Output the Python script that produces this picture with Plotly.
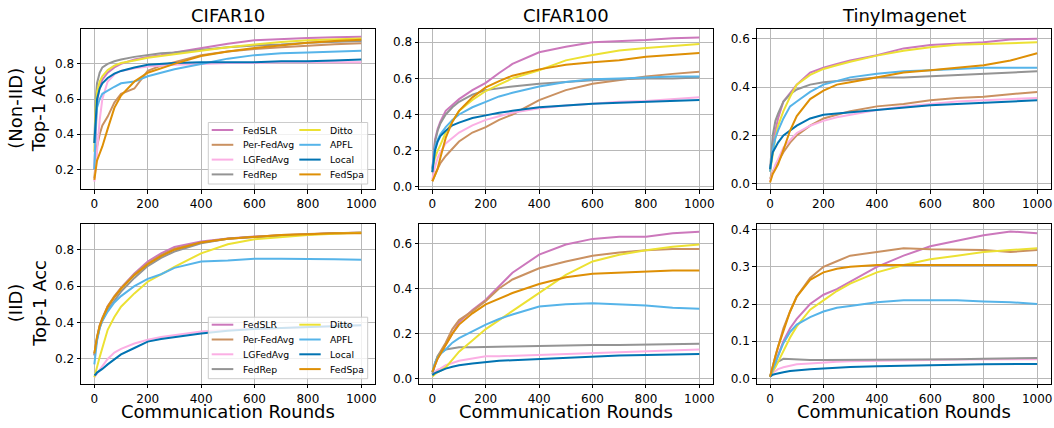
import plotly.graph_objects as go

# ---------------- data ----------------
ROUNDS = [0, 5, 10, 20, 30, 50, 75, 100, 150, 200, 250, 300, 400, 500, 600, 700, 800, 900, 1000]

METHODS = ["FedSLR", "Per-FedAvg", "LGFedAvg", "FedRep", "Ditto", "APFL", "Local", "FedSpa"]
COLORS = ["#CC78BC", "#CA9161", "#FBAFE4", "#949494", "#ECE133", "#56B4E9", "#0173B2", "#DE8F05"]

DATASETS = ["CIFAR10", "CIFAR100", "TinyImagenet"]
ROW_LABELS = ["(Non-IID)<br>Top-1 Acc", "(IID)<br>Top-1 Acc"]
X_TICKS = [0, 200, 400, 600, 800, 1000]

# CIFAR10, Non-IID
c10_noniid_fedslr = [0.20, 0.45, 0.58, 0.67, 0.71, 0.75, 0.78, 0.80, 0.825, 0.84, 0.85, 0.865, 0.89, 0.915, 0.935, 0.943, 0.948, 0.952, 0.955]
c10_noniid_perfedavg = [0.15, 0.25, 0.33, 0.40, 0.45, 0.50, 0.58, 0.63, 0.66, 0.76, 0.79, 0.81, 0.85, 0.87, 0.885, 0.895, 0.905, 0.912, 0.918]
c10_noniid_lgfedavg = [0.13, 0.20, 0.30, 0.48, 0.60, 0.70, 0.74, 0.76, 0.775, 0.785, 0.79, 0.795, 0.80, 0.805, 0.805, 0.81, 0.81, 0.81, 0.81]
c10_noniid_fedrep = [0.35, 0.60, 0.69, 0.75, 0.78, 0.80, 0.815, 0.825, 0.84, 0.85, 0.86, 0.865, 0.88, 0.895, 0.905, 0.91, 0.92, 0.925, 0.93]
c10_noniid_ditto = [0.30, 0.55, 0.64, 0.70, 0.73, 0.765, 0.79, 0.805, 0.82, 0.835, 0.845, 0.855, 0.875, 0.895, 0.91, 0.925, 0.935, 0.94, 0.945]
c10_noniid_apfl = [0.20, 0.45, 0.55, 0.60, 0.63, 0.65, 0.67, 0.69, 0.70, 0.73, 0.75, 0.77, 0.80, 0.83, 0.85, 0.86, 0.865, 0.87, 0.875]
c10_noniid_local = [0.35, 0.52, 0.60, 0.66, 0.69, 0.72, 0.745, 0.76, 0.78, 0.795, 0.80, 0.805, 0.81, 0.81, 0.81, 0.815, 0.815, 0.82, 0.825]
c10_noniid_fedspa = [0.14, 0.20, 0.25, 0.29, 0.33, 0.43, 0.55, 0.62, 0.70, 0.75, 0.775, 0.80, 0.845, 0.87, 0.89, 0.905, 0.92, 0.93, 0.937]

# CIFAR100, Non-IID
c100_noniid_fedslr = [0.10, 0.20, 0.26, 0.32, 0.36, 0.42, 0.455, 0.485, 0.535, 0.575, 0.63, 0.68, 0.745, 0.775, 0.80, 0.805, 0.813, 0.823, 0.826]
c100_noniid_perfedavg = [0.03, 0.05, 0.07, 0.10, 0.13, 0.17, 0.21, 0.25, 0.30, 0.33, 0.37, 0.40, 0.48, 0.535, 0.57, 0.59, 0.61, 0.625, 0.637]
c100_noniid_lgfedavg = [0.04, 0.08, 0.11, 0.16, 0.19, 0.24, 0.27, 0.30, 0.34, 0.37, 0.39, 0.41, 0.435, 0.45, 0.46, 0.47, 0.475, 0.485, 0.495]
c100_noniid_fedrep = [0.08, 0.18, 0.25, 0.31, 0.35, 0.40, 0.44, 0.47, 0.51, 0.535, 0.545, 0.555, 0.57, 0.58, 0.59, 0.595, 0.60, 0.60, 0.605]
c100_noniid_ditto = [0.10, 0.13, 0.16, 0.20, 0.23, 0.30, 0.36, 0.42, 0.48, 0.53, 0.565, 0.60, 0.645, 0.70, 0.73, 0.755, 0.768, 0.78, 0.79]
c100_noniid_apfl = [0.10, 0.18, 0.22, 0.26, 0.29, 0.33, 0.37, 0.40, 0.44, 0.47, 0.50, 0.52, 0.555, 0.58, 0.595, 0.60, 0.605, 0.61, 0.61]
c100_noniid_local = [0.08, 0.15, 0.20, 0.25, 0.28, 0.31, 0.34, 0.355, 0.38, 0.395, 0.41, 0.42, 0.44, 0.45, 0.46, 0.465, 0.47, 0.475, 0.48]
c100_noniid_fedspa = [0.03, 0.05, 0.07, 0.10, 0.16, 0.27, 0.36, 0.42, 0.495, 0.55, 0.585, 0.615, 0.65, 0.675, 0.69, 0.70, 0.72, 0.73, 0.74]

# TinyImagenet, Non-IID
tin_noniid_fedslr = [0.05, 0.10, 0.15, 0.22, 0.27, 0.34, 0.375, 0.41, 0.46, 0.48, 0.495, 0.51, 0.532, 0.56, 0.574, 0.58, 0.585, 0.597, 0.60]
tin_noniid_perfedavg = [0.02, 0.04, 0.05, 0.07, 0.09, 0.13, 0.17, 0.20, 0.24, 0.27, 0.285, 0.30, 0.32, 0.33, 0.345, 0.355, 0.36, 0.37, 0.38]
tin_noniid_lgfedavg = [0.01, 0.03, 0.05, 0.08, 0.10, 0.15, 0.18, 0.21, 0.24, 0.26, 0.275, 0.285, 0.305, 0.32, 0.33, 0.34, 0.345, 0.35, 0.355]
tin_noniid_fedrep = [0.06, 0.14, 0.20, 0.26, 0.29, 0.34, 0.37, 0.39, 0.41, 0.42, 0.425, 0.43, 0.44, 0.44, 0.445, 0.45, 0.455, 0.46, 0.465]
tin_noniid_ditto = [0.05, 0.09, 0.13, 0.19, 0.24, 0.30, 0.36, 0.41, 0.45, 0.475, 0.49, 0.505, 0.53, 0.55, 0.565, 0.575, 0.578, 0.58, 0.585]
tin_noniid_apfl = [0.05, 0.10, 0.14, 0.19, 0.22, 0.27, 0.32, 0.34, 0.38, 0.41, 0.425, 0.44, 0.455, 0.465, 0.47, 0.475, 0.48, 0.48, 0.48]
tin_noniid_local = [0.06, 0.10, 0.13, 0.15, 0.17, 0.20, 0.22, 0.24, 0.27, 0.285, 0.29, 0.295, 0.305, 0.315, 0.325, 0.33, 0.335, 0.34, 0.345]
tin_noniid_fedspa = [0.005, 0.02, 0.04, 0.06, 0.08, 0.14, 0.22, 0.28, 0.35, 0.385, 0.41, 0.42, 0.44, 0.46, 0.47, 0.48, 0.49, 0.51, 0.54]

# CIFAR10, IID
c10_iid_fedslr = [0.22, 0.27, 0.31, 0.38, 0.42, 0.49, 0.54, 0.59, 0.67, 0.735, 0.78, 0.815, 0.845, 0.862, 0.872, 0.88, 0.885, 0.89, 0.893]
c10_iid_perfedavg = [0.23, 0.28, 0.32, 0.385, 0.425, 0.49, 0.545, 0.59, 0.665, 0.725, 0.77, 0.805, 0.84, 0.86, 0.872, 0.88, 0.886, 0.89, 0.895]
c10_iid_lgfedavg = [0.10, 0.11, 0.12, 0.14, 0.16, 0.20, 0.235, 0.255, 0.285, 0.305, 0.32, 0.33, 0.35, 0.36, 0.365, 0.37, 0.375, 0.38, 0.385]
c10_iid_fedrep = [0.22, 0.27, 0.31, 0.37, 0.41, 0.47, 0.52, 0.57, 0.645, 0.71, 0.755, 0.79, 0.835, 0.86, 0.87, 0.878, 0.885, 0.89, 0.893]
c10_iid_ditto = [0.10, 0.13, 0.16, 0.21, 0.26, 0.36, 0.43, 0.487, 0.56, 0.624, 0.665, 0.705, 0.78, 0.83, 0.857, 0.87, 0.88, 0.888, 0.893]
c10_iid_apfl = [0.17, 0.25, 0.30, 0.37, 0.41, 0.46, 0.51, 0.545, 0.60, 0.64, 0.665, 0.70, 0.735, 0.74, 0.75, 0.75, 0.75, 0.748, 0.745]
c10_iid_local = [0.11, 0.115, 0.125, 0.135, 0.145, 0.17, 0.20, 0.225, 0.26, 0.295, 0.31, 0.32, 0.34, 0.355, 0.365, 0.37, 0.375, 0.38, 0.385]
c10_iid_fedspa = [0.23, 0.28, 0.32, 0.38, 0.42, 0.485, 0.54, 0.585, 0.66, 0.72, 0.765, 0.80, 0.84, 0.86, 0.872, 0.88, 0.885, 0.89, 0.89]

# CIFAR100, IID
c100_iid_fedslr = [0.03, 0.04, 0.06, 0.09, 0.11, 0.15, 0.20, 0.25, 0.305, 0.35, 0.41, 0.47, 0.55, 0.595, 0.62, 0.63, 0.63, 0.645, 0.652]
c100_iid_perfedavg = [0.03, 0.045, 0.065, 0.10, 0.12, 0.16, 0.22, 0.26, 0.30, 0.345, 0.40, 0.44, 0.49, 0.52, 0.545, 0.56, 0.57, 0.575, 0.575]
c100_iid_lgfedavg = [0.02, 0.025, 0.03, 0.04, 0.045, 0.06, 0.07, 0.08, 0.09, 0.10, 0.10, 0.102, 0.105, 0.11, 0.115, 0.118, 0.12, 0.125, 0.13]
c100_iid_fedrep = [0.02, 0.05, 0.07, 0.10, 0.115, 0.13, 0.135, 0.14, 0.14, 0.14, 0.142, 0.143, 0.145, 0.148, 0.15, 0.15, 0.152, 0.153, 0.155]
c100_iid_ditto = [0.01, 0.015, 0.02, 0.03, 0.035, 0.05, 0.085, 0.12, 0.17, 0.22, 0.26, 0.30, 0.38, 0.46, 0.52, 0.55, 0.57, 0.585, 0.595]
c100_iid_apfl = [0.03, 0.05, 0.07, 0.095, 0.11, 0.13, 0.16, 0.18, 0.21, 0.24, 0.265, 0.285, 0.32, 0.33, 0.335, 0.33, 0.325, 0.315, 0.31]
c100_iid_local = [0.015, 0.02, 0.025, 0.03, 0.035, 0.045, 0.053, 0.06, 0.068, 0.075, 0.08, 0.082, 0.087, 0.093, 0.10, 0.103, 0.105, 0.108, 0.11]
c100_iid_fedspa = [0.03, 0.045, 0.06, 0.09, 0.11, 0.15, 0.20, 0.24, 0.29, 0.33, 0.355, 0.38, 0.42, 0.45, 0.465, 0.47, 0.475, 0.48, 0.48]

# TinyImagenet, IID
tin_iid_fedslr = [0.005, 0.015, 0.025, 0.045, 0.06, 0.10, 0.135, 0.16, 0.20, 0.225, 0.24, 0.26, 0.30, 0.33, 0.355, 0.37, 0.385, 0.395, 0.39]
tin_iid_perfedavg = [0.005, 0.02, 0.035, 0.06, 0.085, 0.135, 0.18, 0.22, 0.27, 0.30, 0.315, 0.33, 0.34, 0.35, 0.347, 0.345, 0.345, 0.34, 0.345]
tin_iid_lgfedavg = [0.005, 0.01, 0.015, 0.02, 0.025, 0.03, 0.035, 0.038, 0.04, 0.043, 0.045, 0.046, 0.048, 0.05, 0.05, 0.051, 0.052, 0.052, 0.052]
tin_iid_fedrep = [0.005, 0.015, 0.022, 0.035, 0.045, 0.053, 0.052, 0.05, 0.05, 0.05, 0.05, 0.05, 0.05, 0.05, 0.051, 0.052, 0.053, 0.054, 0.055]
tin_iid_ditto = [0.005, 0.01, 0.018, 0.03, 0.045, 0.075, 0.11, 0.14, 0.185, 0.21, 0.235, 0.255, 0.285, 0.305, 0.32, 0.33, 0.34, 0.345, 0.35]
tin_iid_apfl = [0.005, 0.015, 0.025, 0.045, 0.06, 0.095, 0.125, 0.145, 0.165, 0.18, 0.19, 0.195, 0.205, 0.21, 0.21, 0.21, 0.207, 0.205, 0.20]
tin_iid_local = [0.005, 0.008, 0.01, 0.012, 0.014, 0.017, 0.02, 0.022, 0.025, 0.027, 0.029, 0.031, 0.033, 0.035, 0.037, 0.037, 0.038, 0.038, 0.039]
tin_iid_fedspa = [0.005, 0.02, 0.035, 0.06, 0.085, 0.13, 0.18, 0.22, 0.265, 0.285, 0.295, 0.30, 0.305, 0.305, 0.305, 0.305, 0.305, 0.305, 0.305]

PANELS = [
    [c10_noniid_fedslr, c10_noniid_perfedavg, c10_noniid_lgfedavg, c10_noniid_fedrep,
     c10_noniid_ditto, c10_noniid_apfl, c10_noniid_local, c10_noniid_fedspa],
    [c100_noniid_fedslr, c100_noniid_perfedavg, c100_noniid_lgfedavg, c100_noniid_fedrep,
     c100_noniid_ditto, c100_noniid_apfl, c100_noniid_local, c100_noniid_fedspa],
    [tin_noniid_fedslr, tin_noniid_perfedavg, tin_noniid_lgfedavg, tin_noniid_fedrep,
     tin_noniid_ditto, tin_noniid_apfl, tin_noniid_local, tin_noniid_fedspa],
    [c10_iid_fedslr, c10_iid_perfedavg, c10_iid_lgfedavg, c10_iid_fedrep,
     c10_iid_ditto, c10_iid_apfl, c10_iid_local, c10_iid_fedspa],
    [c100_iid_fedslr, c100_iid_perfedavg, c100_iid_lgfedavg, c100_iid_fedrep,
     c100_iid_ditto, c100_iid_apfl, c100_iid_local, c100_iid_fedspa],
    [tin_iid_fedslr, tin_iid_perfedavg, tin_iid_lgfedavg, tin_iid_fedrep,
     tin_iid_ditto, tin_iid_apfl, tin_iid_local, tin_iid_fedspa],
]

Y_RANGES = [[0.088, 0.997], [-0.013, 0.872], [-0.022, 0.639],
            [0.064, 0.941], [-0.022, 0.686], [-0.014, 0.415]]
Y_DTICK = [0.2, 0.2, 0.2, 0.2, 0.2, 0.1]

# ---------------- layout geometry (pixels) ----------------
W, H = 1054, 428
COL_PX = [(81, 374.6), (419, 712.7), (756.7, 1050.5)]
ROW_PX = [(29.3, 189.0), (224.0, 383.7)]

FONT = "DejaVu Sans, Liberation Sans, sans-serif"

fig = go.Figure()

for p in range(6):
    r, c = divmod(p, 3)
    ax = "" if p == 0 else str(p + 1)
    for m, name in enumerate(METHODS):
        fig.add_trace(go.Scatter(
            x=ROUNDS, y=PANELS[p][m], mode="lines", name=name,
            line=dict(color=COLORS[m], width=2),
            xaxis="x" + ax, yaxis="y" + ax, showlegend=False,
        ))
    x0, x1 = COL_PX[c]
    yt, yb = ROW_PX[r]
    common = dict(showline=True, mirror=True, linecolor="black", linewidth=1,
                  ticks="outside", ticklen=3.5, tickwidth=1, tickcolor="black",
                  showgrid=True, gridcolor="#b8b8b8", gridwidth=1, zeroline=False,
                  tickfont=dict(family=FONT, size=12, color="black"), automargin=False)
    fig.layout["xaxis" + ax] = dict(domain=[x0 / W, x1 / W], range=[-50, 1050],
                                    tickvals=X_TICKS, anchor="y" + ax,
                                    ticklabeloverflow="allow", **common)
    fig.layout["yaxis" + ax] = dict(domain=[1 - yb / H, 1 - yt / H], range=Y_RANGES[p],
                                    dtick=Y_DTICK[p], tick0=0, tickformat=".1f",
                                    anchor="x" + ax, **common)

annotations = []
# column titles and x-axis titles
for c, name in enumerate(DATASETS):
    x0, x1 = COL_PX[c]
    annotations.append(dict(text=name, x=(x0 + x1) / 2 / W, y=1 - 15.5 / H, xref="paper", yref="paper",
                            showarrow=False, xanchor="center", yanchor="middle",
                            font=dict(family=FONT, size=18, color="black")))
    annotations.append(dict(text="Communication Rounds", x=(x0 + x1) / 2 / W, y=1 - 411 / H,
                            xref="paper", yref="paper", showarrow=False,
                            xanchor="center", yanchor="middle",
                            font=dict(family=FONT, size=18, color="black")))
# row labels
for r, lab in enumerate(ROW_LABELS):
    yt, yb = ROW_PX[r]
    annotations.append(dict(text=lab, x=27 / W, y=1 - (yt + yb) / 2 / H, xref="paper", yref="paper",
                            showarrow=False, textangle=-90, xanchor="center", yanchor="middle",
                            font=dict(family=FONT, size=18, color="black")))

# legends (in first column panels), drawn in axis-domain coordinates
shapes = []
px_w = COL_PX[0][1] - COL_PX[0][0]
px_h = ROW_PX[0][1] - ROW_PX[0][0]
def dx(px):
    return (px - COL_PX[0][0]) / px_w
def dy(py):
    return (ROW_PX[0][1] - py) / px_h
row_py = [130.0, 144.8, 159.6, 174.4]
for ax in ["", "4"]:
    xr, yr = "x" + ax + " domain", "y" + ax + " domain"
    shapes.append(dict(type="rect", xref=xr, yref=yr, x0=dx(208.3), x1=dx(367.7),
                       y0=dy(184.0), y1=dy(122.5), line=dict(color="#cccccc", width=1),
                       fillcolor="rgba(255,255,255,0.8)", layer="above"))
    for m, name in enumerate(METHODS):
        col, row = divmod(m, 4)
        lx0, lx1, tx = (211.7, 233.3, 241.0) if col == 0 else (299.3, 320.7, 328.3)
        shapes.append(dict(type="line", xref=xr, yref=yr, x0=dx(lx0), x1=dx(lx1),
                           y0=dy(row_py[row]), y1=dy(row_py[row]),
                           line=dict(color=COLORS[m], width=2), layer="above"))
        annotations.append(dict(text=name, xref=xr, yref=yr, x=dx(tx), y=dy(row_py[row]),
                                showarrow=False, xanchor="left", yanchor="middle",
                                font=dict(family=FONT, size=9.3, color="black")))

fig.update_layout(width=W, height=H, margin=dict(l=0, r=0, t=0, b=0),
                  paper_bgcolor="white", plot_bgcolor="white",
                  annotations=annotations, shapes=shapes, showlegend=False,
                  font=dict(family=FONT, color="black"))

fig.write_html("out.html", config={"displayModeBar": False},
               post_script="document.body.style.margin='0';")
